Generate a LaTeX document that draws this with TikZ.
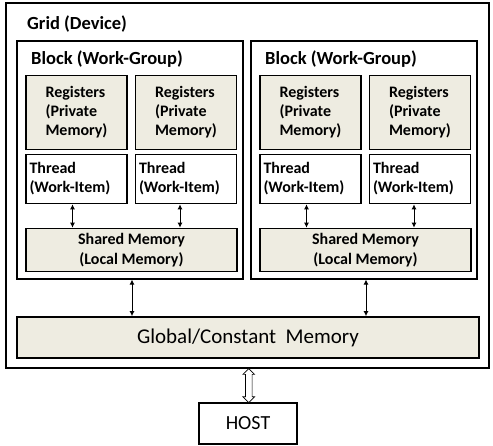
\documentclass[tikz,border=0pt]{standalone}
\usepackage{fontspec}
\setmainfont{Carlito}
\usetikzlibrary{arrows.meta,shapes.arrows,calc}
\definecolor{memfill}{HTML}{EEECE1}
\tikzset{
  outerbox/.style={draw,line width=1.5pt,inner sep=0pt},
  blockbox/.style={draw,line width=1.2pt,inner sep=0pt},
  membox/.style={draw,line width=1.7pt,fill=memfill,inner sep=0pt,align=center},
  regbox/.style={membox,align=left,font=\fontsize{16}{19}\selectfont\bfseries,
    minimum width=101pt,minimum height=74pt},
  threadbox/.style={draw,line width=1.7pt,inner sep=3.5pt,align=left,
    text width=94pt,minimum height=49pt,font=\fontsize{16}{19}\selectfont\bfseries},
  titletxt/.style={anchor=base west,inner sep=0pt,font=\fontsize{18.5}{22}\selectfont\bfseries},
  link/.style={line width=0.9pt,{Latex[length=5pt,width=5pt]}-{Latex[length=5pt,width=5pt]}}
}
\begin{document}
\begin{tikzpicture}[x=1pt,y=-1pt]
  \useasboundingbox (0,0) rectangle (493,446);
  % grid (device)
  \node[outerbox,minimum width=483pt,minimum height=365pt] (grid) at (247.5,185.5) {};
  \node[titletxt] (gridlbl) at (27,30) {Grid (Device)};
  % the two blocks
  \foreach \b/\dx in {L/0,R/234} {
    \node[blockbox,minimum width=226pt,minimum height=238pt] (blk\b) at (130+\dx,160) {};
    \node[titletxt] (blk\b lbl) at (31+\dx,65) {Block (Work-Group)};
    \node[regbox] (reg\b1) at (76.5+\dx,112.5) {Registers\\(Private\\Memory)};
    \node[regbox] (reg\b2) at (186+\dx,112.5) {Registers\\(Private\\Memory)};
    \node[threadbox] (thr\b1) at (76.5+\dx,179) {Thread\\(Work-Item)};
    \node[threadbox] (thr\b2) at (186+\dx,179) {Thread\\(Work-Item)};
    \node[membox,minimum width=211pt,minimum height=43pt,
      font=\fontsize{16}{20}\selectfont\bfseries] (sh\b) at (131.5+\dx,250)
      {Shared Memory\\(Local Memory)};
    \draw[link] ([xshift=-4pt]thr\b1.south) -- ([xshift=-4pt]thr\b1.south |- sh\b.north);
    \draw[link] ([xshift=-6pt]thr\b2.south) -- ([xshift=-6pt]thr\b2.south |- sh\b.north);
  }
  \node[membox,minimum width=462pt,minimum height=41pt,
    font=\fontsize{21}{24}\selectfont] (glob) at (248,337.5) {Global/Constant\ \ Memory};
  \draw[link] ([xshift=2pt]blkL.south) -- ([xshift=2pt]blkL.south |- glob.north);
  \draw[link] ([xshift=2pt]blkR.south) -- ([xshift=2pt]blkR.south |- glob.north);
  % host
  \node[draw,line width=1.3pt,minimum width=98pt,minimum height=41pt,
    font=\fontsize{20}{23}\selectfont] (host) at (248,423.5) {HOST};
  \node[double arrow,draw,line width=0.7pt,fill=white,rotate=90,inner sep=3pt,
    double arrow head extend=2.5pt,minimum height=34pt] (hostlink)
    at ($(grid.south)!0.5!(host.north)+(1,0)$) {};
\end{tikzpicture}
\end{document}
